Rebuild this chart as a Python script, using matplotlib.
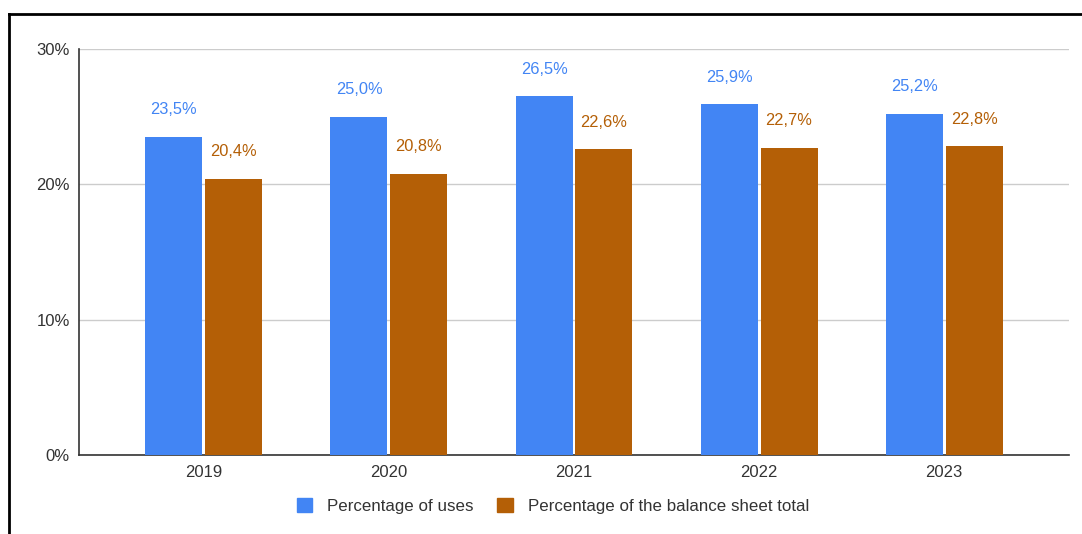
import matplotlib
matplotlib.use("Agg")
import matplotlib.pyplot as plt
from matplotlib.lines import Line2D
from matplotlib.patches import Patch
import numpy as np

years = ["2019", "2020", "2021", "2022", "2023"]
uses = [23.5, 25.0, 26.5, 25.9, 25.2]
balance = [20.4, 20.8, 22.6, 22.7, 22.8]
series_names = ["Percentage of uses", "Percentage of the balance sheet total"]
colors = ["#4285F4", "#B45F06"]

plt.rcParams['font.family'] = ['Liberation Sans', 'DejaVu Sans']

W, H = 1082, 534
fig = plt.figure(figsize=(W/100, H/100), dpi=100)
ax = fig.add_axes([79/W, 1-455/H, (1069-79)/W, (455-49)/H])

x = np.arange(len(years))
bw = 0.308
gap = 0.016
off = (bw + gap) / 2
b1 = ax.bar(x - off, uses, bw, color=colors[0], zorder=3)
b2 = ax.bar(x + off, balance, bw, color=colors[1], zorder=3)

def fmt(v):
    return f"{v:.1f}".replace(".", ",") + "%"

for bars, vals, c in [(b1, uses, colors[0]), (b2, balance, colors[1])]:
    for r, v in zip(bars, vals):
        ax.annotate(fmt(v), (r.get_x() + r.get_width()/2, v), xytext=(0, 19.5),
                    textcoords="offset points", ha="center", va="center",
                    color=c, fontsize=11.8)

ax.set_ylim(0, 30)
ax.set_xlim(-0.675, 4.675)
ax.set_yticks([0, 10, 20, 30])
ax.set_yticklabels(["0%", "10%", "20%", "30%"])
ax.set_xticks(x)
ax.set_xticklabels(years)
ax.yaxis.grid(True, color="#cccccc", linewidth=1, zorder=0)
ax.tick_params(length=0, labelsize=12, colors="#333333", pad=7)
ax.tick_params(axis="y", pad=6.5)
for s in ["top", "right"]:
    ax.spines[s].set_visible(False)
ax.spines["left"].set_color("#333333")
ax.spines["bottom"].set_color("#333333")
ax.spines["left"].set_linewidth(1.2)
ax.spines["bottom"].set_linewidth(1.2)

handles = [Patch(facecolor=colors[0], edgecolor=colors[0]),
           Patch(facecolor=colors[1], edgecolor=colors[1])]
fig.legend(handles, series_names, loc="center", bbox_to_anchor=(553/W, 1-506/H),
           ncol=2, frameon=False, fontsize=12.2, handlelength=0.9, handleheight=0.9,
           handletextpad=0.9, columnspacing=1.4, labelcolor="#333333")

# outer border (cropped box)
fig.add_artist(Line2D([9/W, 1], [1-14/H, 1-14/H], color="black", linewidth=2, transform=fig.transFigure))
fig.add_artist(Line2D([9/W, 9/W], [0, 1-14/H], color="black", linewidth=2, transform=fig.transFigure))

fig.savefig("out.png", dpi=100)
